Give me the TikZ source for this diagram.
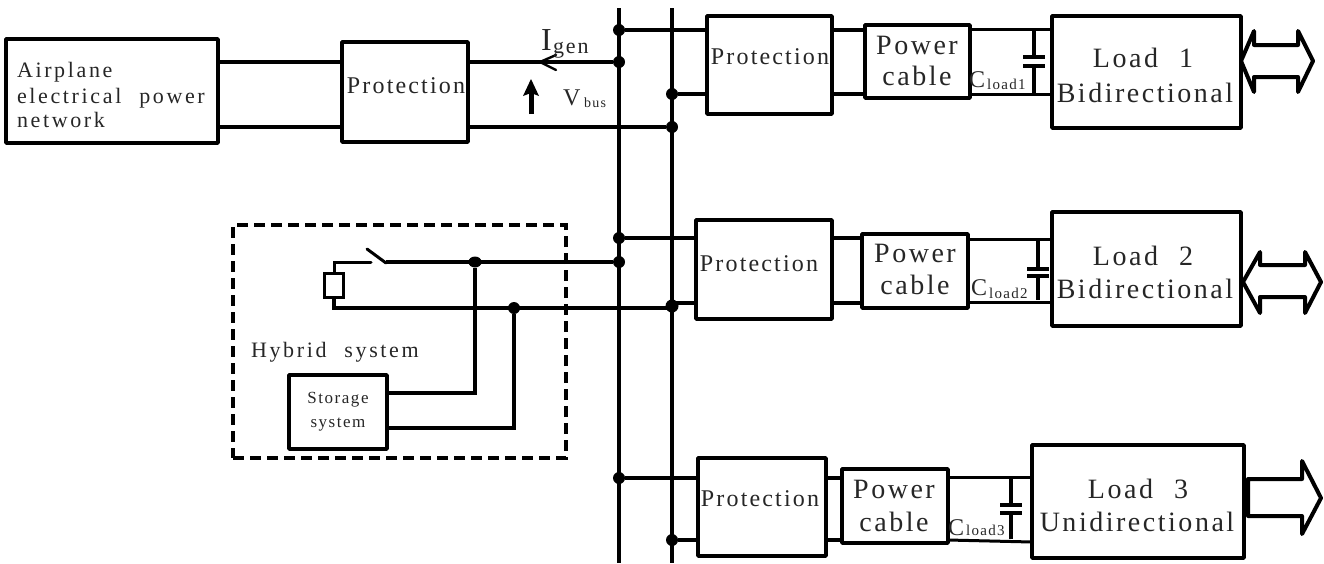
\documentclass[tikz,border=0pt]{standalone}
\usepackage{fontspec}
\setmainfont{Liberation Serif}
\newfontfamily\lsf[LetterSpace=9,WordSpace=2.2]{Liberation Serif}
\newfontfamily\lsw[LetterSpace=12,WordSpace=2.2]{Liberation Serif}
\newcommand{\fs}[1]{\fontsize{#1}{#1}\selectfont\lsf}
\newcommand{\fw}[1]{\fontsize{#1}{#1}\selectfont\lsw}
\tikzset{
  box/.style={draw=black,line width=3.6pt,fill=white,inner sep=0pt,outer sep=0pt,line join=round},
  wire/.style={draw=black,line width=4.6pt},
  midwire/.style={draw=black,line width=3.8pt},
  thinwire/.style={draw=black,line width=3pt},
  busbar/.style={draw=black,line width=4pt},
  dot/.style={circle,fill=black,inner sep=0pt,outer sep=0pt,minimum size=12pt},
  lbl/.style={anchor=base,inner sep=0pt,outer sep=0pt,text=black!85},
  fat/.style={draw=black,line width=4pt,line join=round,line cap=round,fill=white},
}
\newcommand{\bx}[5]{\node[box,minimum width=#4-#2,minimum height=#5-#3] (#1) at ({(#2+#4)/2},{(#3+#5)/2}) {};}
\begin{document}
\begin{tikzpicture}[x=1pt,y=-1pt]
\useasboundingbox (0,0) rectangle (1324,563);
% buses
\coordinate (b1t) at (619,8); \coordinate (b1b) at (619,563);
\coordinate (b2t) at (672,8); \coordinate (b2b) at (672,563);
\draw[busbar] (b1t) -- (b1b);
\draw[busbar,line width=3.4pt] (b2t) -- (b2b);
% boxes
\bx{air}{6}{39}{218}{143}
\bx{p0}{342}{42}{468}{142}
\bx{p1}{707}{16}{832}{114}
\bx{c1}{865}{25}{970}{98}
\bx{l1}{1052}{16}{1241}{128}
\bx{p2}{696}{220}{832}{319}
\bx{c2}{862}{234}{968}{308}
\bx{l2}{1052}{212}{1241}{326}
\bx{p3}{698}{458}{826}{556}
\bx{c3}{842}{469}{948}{543}
\bx{l3}{1032}{445}{1244}{558}
\bx{st}{289}{375}{387}{449}
% junctions
\node[dot] (j1) at (619,30) {};
\node[dot] (j2) at (619,62) {};
\node[dot] (j3) at (672,94) {};
\node[dot] (j4) at (672,127) {};
\node[dot] (j5) at (619,238) {};
\node[dot] (j6) at (619,262) {};
\node[dot,minimum size=13pt] (j7) at (672,306) {};
\node[dot,minimum size=11pt,xscale=1.2] (j8) at (475,262) {};
\node[dot] (j9) at (514,308) {};
\node[dot] (j10) at (619,478) {};
\node[dot] (j11) at (672,540) {};
% feeder
\draw[wire] (air.east |- j2) -- (p0.west |- j2);
\draw[midwire] (air.east |- j4) -- (p0.west |- j4);
\draw[wire] (p0.east |- j2) -- (j2);
\draw[midwire] (p0.east |- j4) -- (j4);
% branch 1
\draw[wire] (j1) -- (j1 -| p1.west);
\draw[midwire] (j3) -- (j3 -| p1.west);
\draw[wire] (j1 -| p1.east) -- (j1 -| c1.west);
\draw[wire] (j3 -| p1.east) -- (j3 -| c1.west);
\coordinate (t1) at (1034,29); \coordinate (u1) at (1034,94);
\draw[thinwire] (c1.east |- t1) -- (l1.west |- t1);
\draw[thinwire] (c1.east |- u1) -- (l1.west |- u1);
\coordinate (pa1) at (1034,57); \coordinate (pb1) at (1034,66);
\draw[midwire] (t1) -- (pa1) (pb1) -- (u1);
\draw[midwire] ([xshift=-11pt]pa1) -- ([xshift=11pt]pa1);
\draw[midwire] ([xshift=-11pt]pb1) -- ([xshift=11pt]pb1);
% branch 2
\draw[midwire] (j5) -- (j5 -| p2.west);
\coordinate (m2) at (672,303);
\draw[midwire] (m2) -- (m2 -| p2.west);
\draw[midwire] (j5 -| p2.east) -- (j5 -| c2.west);
\draw[midwire] (m2 -| p2.east) -- (m2 -| c2.west);
\coordinate (t2) at (1038,239); \coordinate (u2) at (1038,302);
\draw[thinwire] (c2.east |- t2) -- (l2.west |- t2);
\draw[thinwire] (c2.east |- u2) -- (l2.west |- u2);
\coordinate (pa2) at (1038,269); \coordinate (pb2) at (1038,276);
\draw[midwire] (t2) -- (pa2) (pb2) -- ([yshift=2pt]u2);
\draw[midwire] ([xshift=-11pt]pa2) -- ([xshift=11pt]pa2);
\draw[midwire] ([xshift=-11pt]pb2) -- ([xshift=11pt]pb2);
% branch 3
\draw[wire] (j10) -- (j10 -| p3.west);
\draw[midwire] (j11) -- (j11 -| p3.west);
\draw[midwire] (j10 -| p3.east) -- (j10 -| c3.west);
\draw[midwire] (j11 -| p3.east) -- (j11 -| c3.west);
\coordinate (t3) at (1011,477); \coordinate (u3) at (1011,542);
\draw[thinwire] (c3.east |- t3) -- (l3.west |- t3);
\draw[thinwire] (c3.east |- j11) -- (l3.west |- u3);
\coordinate (pa3) at (1011,505); \coordinate (pb3) at (1011,513);
\draw[midwire] (t3) -- (pa3) (pb3) -- ([yshift=3pt]u3);
\draw[midwire] ([xshift=-11pt]pa3) -- ([xshift=11pt]pa3);
\draw[midwire] ([xshift=-11pt]pb3) -- ([xshift=11pt]pb3);
% hybrid system
\node[draw=black,line width=4.4pt,dash pattern=on 11pt off 6pt,minimum width=333pt,minimum height=233pt,inner sep=0pt] (hy) at (399.5,341.5) {};
\node[draw=black,line width=3pt,inner sep=0pt,outer sep=0pt,minimum width=19pt,minimum height=24pt] (res) at (334,285) {};
\coordinate (sw1) at (371,262); \coordinate (sw2) at (386,263); \coordinate (sw3) at (367,249);
\draw[thinwire,line cap=round] (res.north) -- (res.north |- sw1) -- (sw1);
\draw[thinwire,line cap=round] (sw3) -- (sw2);
\draw[midwire] (sw2 |- j8) -- (j6);
\coordinate (m7) at (672,308);
\draw[midwire] (res.south) -- (res.south |- m7) -- (m7);
\draw[midwire] (j8) -- (j8 |- 0,393) -- (st.east |- 0,393);
\draw[midwire] (j9) -- (j9 |- 0,428) -- (st.east |- 0,428);
% big arrows
\draw[fat] (1241,61) -- (1254,31) -- (1254,45) -- (1298,45) -- (1298,31) -- (1313,61) -- (1298,92) -- (1298,77) -- (1254,77) -- (1254,92) -- cycle;
\draw[fat] (1243,282) -- (1260,252) -- (1260,265) -- (1305,265) -- (1305,252) -- (1321,282) -- (1305,313) -- (1305,297) -- (1260,297) -- (1260,313) -- cycle;
\draw[fat] (1248,479) -- (1302,479) -- (1302,461) -- (1321,498) -- (1302,534) -- (1302,516) -- (1248,516) -- cycle;
% current and voltage arrows
\coordinate (ia) at (540,62); \coordinate (ib) at (556,55); \coordinate (ic) at (556,70);
\draw[line width=2.4pt,line cap=round] (ib) -- (ia) -- (ic);
\coordinate (va) at (531,114); \coordinate (vb) at (531,88);
\draw[line width=5pt] (va) -- (vb);
\fill (531,79) -- (539,96) -- (531,93) -- (523,96) -- cycle;
% labels
\node[lbl,anchor=base west] (ta) at (17,77) {\fw{22}Airplane};
\node[lbl,anchor=base west] (tb) at (17,103) {\fw{22}electrical power};
\node[lbl,anchor=base west] (tc) at (17,127) {\fw{22}network};
\node[lbl] (tp0) at (406,93) {\fs{24}Protection};
\node[lbl] (tp1) at (770,64) {\fs{24}Protection};
\node[lbl] (tp2) at (759,271) {\fs{24}Protection};
\node[lbl] (tp3) at (760,506) {\fs{24}Protection};
\node[lbl] (tc1a) at (917,54) {\fs{28}Power};
\node[lbl] (tc1b) at (917,85) {\fs{28}cable};
\node[lbl] (tc2a) at (915,262) {\fs{28}Power};
\node[lbl] (tc2b) at (915,294) {\fs{28}cable};
\node[lbl] (tc3a) at (894,498) {\fs{28}Power};
\node[lbl] (tc3b) at (894,531) {\fs{28}cable};
\node[lbl] (tl1a) at (1143,67) {\fs{28}Load 1};
\node[lbl] (tl1b) at (1145,102) {\fs{28}Bidirectional};
\node[lbl] (tl2a) at (1143,265) {\fs{28}Load 2};
\node[lbl] (tl2b) at (1145,298) {\fs{28}Bidirectional};
\node[lbl] (tl3a) at (1138,498) {\fs{28}Load 3};
\node[lbl] (tl3b) at (1137,531) {\fs{28}Unidirectional};
\node[lbl,anchor=base west] (ti) at (541,50) {\fontsize{32}{32}\selectfont I};
\node[lbl,anchor=base west] (tig) at (553,53) {\fs{22}gen};
\node[lbl,anchor=base west] (tv) at (563,105) {\fs{24}V};
\node[lbl,anchor=base west] (tvb) at (584,107) {\fs{14}bus};
\node[lbl,anchor=base west] (tc1) at (969,87) {\fs{24}C};
\node[lbl,anchor=base west] (tc1s) at (987,89) {\fs{15}load1};
\node[lbl,anchor=base west] (tc2) at (971,295) {\fs{24}C};
\node[lbl,anchor=base west] (tc2s) at (989,298) {\fs{15}load2};
\node[lbl,anchor=base west] (tc3) at (948,535) {\fs{24}C};
\node[lbl,anchor=base west] (tc3s) at (966,535) {\fs{15}load3};
\node[lbl,anchor=base west] (th) at (251,357) {\fw{22}Hybrid system};
\node[lbl] (ts1) at (338,403) {\fs{17}Storage};
\node[lbl] (ts2) at (338,427) {\fs{17}system};
\end{tikzpicture}
\end{document}
